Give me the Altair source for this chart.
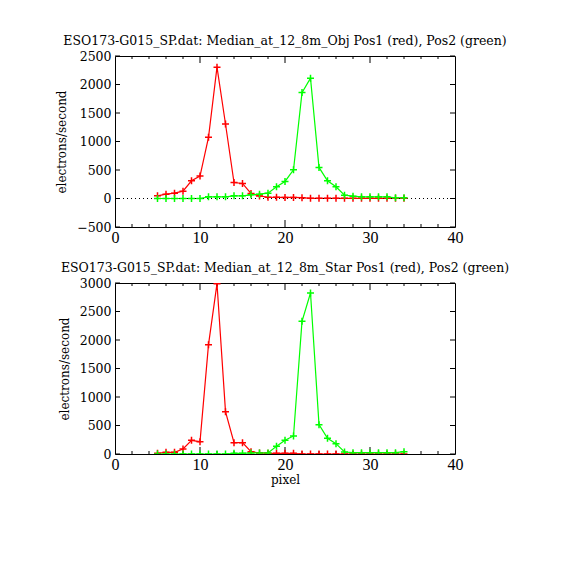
import altair as alt
import pandas as pd

pixels = list(range(5, 35))

obj_pos1 = [47, 76, 94, 129, 311, 393, 1073, 2304, 1307, 281, 264, 88, 45, 22, 20, 18, 18, 15,
            3, 3, 3, 3, 3, 3, 3, 3, 3, 3, 3, 3]
obj_pos2 = [0, 0, 0, 0, 0, 0, 30, 30, 30, 47, 47, 65, 76, 94, 205, 299, 504, 1858, 2110, 545,
            310, 205, 59, 41, 29, 29, 29, 29, 12, 12]

star_pos1 = [12, 29, 29, 88, 240, 216, 1918, 2988, 743, 199, 199, 41, 18, 12, 12, 12, 12, 0,
             0, 0, 0, 0, 0, 0, 0, 0, 0, 0, 0, 0]
star_pos2 = [0, 0, 0, 0, 0, 0, 0, 0, 0, 12, 12, 18, 18, 18, 135, 240, 316, 2327, 2825, 515,
             275, 181, 35, 23, 23, 23, 23, 23, 23, 41]

x_labels = [0, 10, 20, 30, 40]
x_major = [10, 20, 30]
x_minor = [2, 4, 6, 8, 12, 14, 16, 18, 22, 24, 26, 28, 32, 34, 36, 38]
obj_yticks = [-500, 0, 500, 1000, 1500, 2000, 2500]
star_yticks = [0, 500, 1000, 1500, 2000, 2500, 3000]

title_obj = "ESO173-G015_SP.dat: Median_at_12_8m_Obj Pos1 (red), Pos2 (green)"
title_star = "ESO173-G015_SP.dat: Median_at_12_8m_Star Pos1 (red), Pos2 (green)"

W, H = 340, 171
SERIF = "DejaVu Serif"
PLUS = "M-1,0L1,0M0,-1L0,1"


def panel(title, p1, p2, ydom, yticks, xtitle, zero_line):
    df = pd.DataFrame({
        "pixel": pixels * 2,
        "value": p1 + p2,
        "series": ["Pos1"] * len(pixels) + ["Pos2"] * len(pixels),
    })
    xs = alt.Scale(domain=[0, 40], nice=False, zero=False)
    ys = alt.Scale(domain=ydom, nice=False, zero=False)
    xaxis = alt.Axis(values=x_labels, format="d", ticks=False, tickSize=0, domain=False,
                     grid=False, labelFont="Liberation Serif", labelFontSize=16, labelPadding=2,
                     labelFlush=False, labelOverlap=False, labelColor="black",
                     title=xtitle, titleFont=SERIF, titleFontSize=12, titleFontWeight="normal",
                     titleColor="black", titlePadding=2)
    yaxis = alt.Axis(values=yticks, format="d", ticks=False, tickSize=0, domain=False,
                     grid=False, labelFont=SERIF, labelFontSize=12.5, labelPadding=4,
                     labelColor="black", labelFlush=False, labelOverlap=False,
                     title="electrons/second", titleFont=SERIF, titleFontSize=12,
                     titleFontWeight="normal", titleColor="black", titlePadding=8)
    X = alt.X("pixel:Q", scale=xs, axis=xaxis)
    Y = alt.Y("value:Q", scale=ys, axis=yaxis)
    color = alt.Color("series:N", scale=alt.Scale(domain=["Pos1", "Pos2"],
                                                  range=["#ff0000", "#00ff00"]), legend=None)

    base = alt.Chart(df)
    lines = base.mark_line(strokeWidth=1.2, clip=True).encode(
        x=X, y=Y, color=color, detail="series:N")
    pts = base.mark_point(shape=PLUS, filled=False, size=49, strokeWidth=1.5, opacity=1,
                          clip=True).encode(x=X, y=Y, color=color)

    layers = []
    xmaj = pd.DataFrame({"pixel": x_major})
    xmin = pd.DataFrame({"pixel": x_minor})
    ytk = pd.DataFrame({"value": yticks})
    for d, ln in ((xmaj, 7), (xmin, 3)):
        layers.append(alt.Chart(d).mark_rule(color="black", strokeWidth=1).encode(
            x=X, y=alt.value(H), y2=alt.value(H - ln)))
        layers.append(alt.Chart(d).mark_rule(color="black", strokeWidth=1).encode(
            x=X, y=alt.value(0), y2=alt.value(ln)))
    layers.append(alt.Chart(ytk).mark_rule(color="black", strokeWidth=1).encode(
        y=Y, x=alt.value(0), x2=alt.value(5)))
    layers.append(alt.Chart(ytk).mark_rule(color="black", strokeWidth=1).encode(
        y=Y, x=alt.value(W), x2=alt.value(W - 5)))
    if zero_line:
        layers.append(alt.Chart(pd.DataFrame({"value": [0]})).mark_rule(
            color="black", strokeWidth=1, strokeDash=[1, 3]).encode(
            y=Y, x=alt.value(0), x2=alt.value(W)))

    return alt.layer(lines, *layers, pts).properties(
        width=W, height=H,
        title=alt.TitleParams(title, font=SERIF, fontSize=12.5, fontWeight="normal",
                              color="black", offset=3, anchor="middle", frame="group"))


top = panel(title_obj, obj_pos1, obj_pos2, [-500, 2500], obj_yticks, None, True)
bottom = panel(title_star, star_pos1, star_pos2, [0, 3000], star_yticks, "pixel", False)

chart = alt.vconcat(top, bottom, spacing=56, bounds="flush").properties(
    padding={"left": 47, "top": 26, "right": 5, "bottom": 5},
    background="white",
).configure_view(stroke="black", strokeWidth=1).configure_axis(labelOverlap=False)

chart.save("out.html", embed_options={"renderer": "svg", "actions": False})
